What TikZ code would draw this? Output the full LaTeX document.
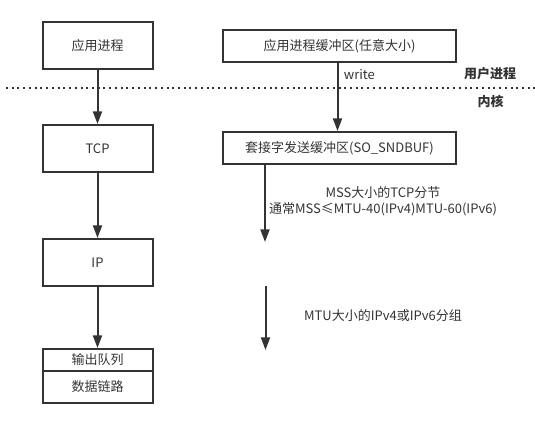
\documentclass[tikz,border=0pt]{standalone}
\usepackage{fontspec}
\setmainfont{Noto Sans CJK SC}
\usetikzlibrary{positioning}
\usetikzlibrary{arrows.meta}
\definecolor{ink}{HTML}{333333}

\begin{document}
\begin{tikzpicture}[x=0.75pt,y=-0.75pt,
  box/.style={draw=ink, line width=1.5pt, inner sep=0pt, text=ink,
    minimum width=82.5pt, minimum height=35.25pt},
  wide/.style={box, minimum width=174.75pt, minimum height=24pt},
  flow/.style={draw=ink, line width=1.5pt, -{Triangle[length=9.5pt,width=6.75pt]}},
  lbl/.style={text=ink, inner sep=0pt},
  every node/.style={font=\fontsize{9.75}{12}\selectfont}]

\useasboundingbox (0,0) rectangle (535,433);

%% left column
\node[box] (v1) at (97.5,45.5) {应用进程};
\node[box] (v2) at (97.5,148.5) {TCP};
\node[box] (v3) at (97.5,262.5) {IP};
\node[box, minimum height=16.5pt] (v4) at (97.5,360) {输出队列};
\node[box, minimum height=24pt] (v5) at (97.5,387) {数据链路};

\draw[flow] (v1) -- (v2);
\draw[flow] (v2) -- (v3);
\draw[flow] (v3) -- (v4);

%% right column
\node[wide] (v6) at (339.5,46) {应用进程缓冲区(任意大小)};
\node[wide] (v7) at (339.5,148) {套接字发送缓冲区(SO\_SNDBUF)};

\draw[flow] (v6.south -| 337.5,0) -- (v7.north -| 337.5,0)
  node[lbl, pos=0.17, right=4pt] (v8) {write};

\coordinate (c1) at (265,242);
\coordinate (c2) at (265.5,286);
\coordinate (c3) at (265.5,350);
\draw[flow] (v7.south -| c1) -- (c1);
\draw[flow] (c2) -- (c3);

\node[lbl, align=center] (v9) at (383,201)
  {MSS大小的TCP分节\\通常MSS≤MTU-40(IPv4)MTU-60(IPv6)};
\node[lbl] (v10) at (383,316) {MTU大小的IPv4或IPv6分组};

%% user / kernel boundary
\coordinate (d1) at (6,88);
\coordinate (d2) at (535,88);
\draw[ink, line width=1.5pt, dash pattern=on 1.5pt off 2.8pt] (d1) -- (d2);

\node[lbl, font=\fontsize{9.75}{12}\selectfont\bfseries] (v11) at (490,74) {用户进程};
\node[lbl, font=\fontsize{9.75}{12}\selectfont\bfseries] (v12) at (490.5,101) {内核};
\end{tikzpicture}
\end{document}
